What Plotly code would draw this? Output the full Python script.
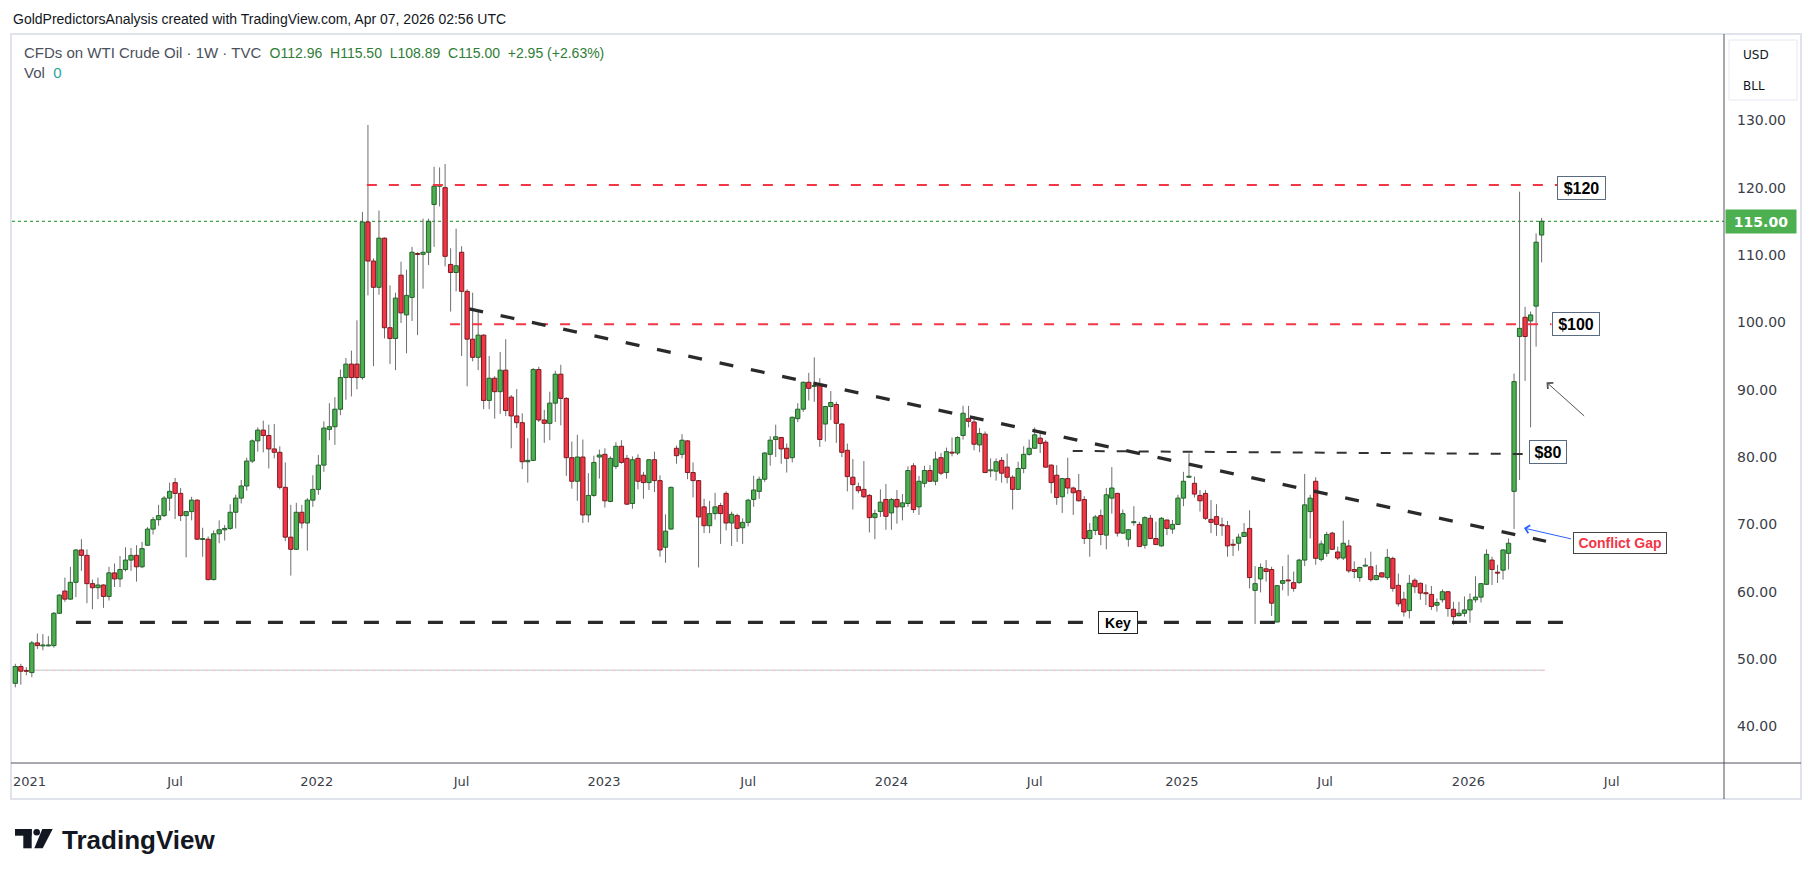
import pandas as pd
import plotly.graph_objects as go

# ---------------- data (weekly candles, TVC WTI) ----------------
first_week = "2020-12-14"

opens = [
    46.4, 48.9, 48.3, 48.0, 52.4, 52.0, 52.0, 52.0, 56.8, 60.1,
    58.9, 61.4, 66.2, 65.4, 61.2, 60.6, 61.0, 59.3, 62.8, 61.9,
    63.3, 64.7, 65.4, 63.7, 66.9, 69.3, 70.7, 71.3, 73.9, 76.2,
    74.6, 71.3, 71.9, 73.6, 67.8, 67.8, 61.8, 68.6, 69.2, 69.4,
    71.8, 73.9, 75.7, 79.4, 82.4, 84.0, 83.2, 81.2, 80.7, 75.5,
    68.1, 66.3, 71.8, 70.2, 73.6, 75.2, 78.8, 84.1, 84.5, 87.1,
    91.8, 93.8, 93.8, 91.8, 114.9, 109.1, 105.2, 112.5, 99.2, 97.6,
    107.0, 101.1, 103.7, 110.2, 110.1, 110.4, 117.5, 120.2, 120.0, 108.6,
    107.4, 110.4, 104.6, 97.5, 94.8, 98.1, 88.4, 91.7, 89.7, 92.9,
    88.9, 86.1, 85.1, 79.3, 79.5, 93.0, 85.5, 85.0, 88.0, 92.3,
    88.7, 79.9, 76.4, 80.0, 71.4, 74.3, 80.0, 80.4, 73.4, 78.6,
    81.6, 79.8, 73.1, 79.8, 77.3, 76.2, 79.6, 76.5, 66.6, 69.3,
    81.3, 80.4, 82.4, 77.7, 76.5, 72.6, 69.8, 71.6, 72.8, 74.6,
    70.2, 71.3, 69.5, 70.3, 73.7, 74.9, 76.7, 80.4, 82.6, 82.9,
    81.3, 79.9, 85.7, 87.1, 91.1, 90.5, 90.6, 84.9, 87.5, 87.8,
    84.9, 81.0, 77.0, 75.6, 75.2, 74.3, 71.0, 71.9, 73.7, 71.7,
    73.7, 72.6, 73.1, 78.7, 72.6, 76.1, 78.0, 76.4, 79.9, 77.7,
    80.7, 80.6, 83.2, 85.7, 85.2, 81.8, 83.4, 78.0, 77.9, 79.5,
    78.5, 77.0, 75.2, 78.3, 80.4, 81.3, 82.8, 82.2, 78.8, 77.3,
    74.1, 76.8, 75.4, 75.0, 73.7, 67.9, 69.1, 71.3, 68.4, 73.9,
    74.6, 68.7, 67.8, 70.3, 70.0, 66.9, 70.9, 67.9, 66.8, 70.65,
    69.3, 70.0, 73.9, 77.0, 76.1, 74.3, 74.6, 70.75, 71.15, 69.9,
    69.8, 67.0, 67.2, 68.2, 69.4, 60.2, 61.9, 63.4, 63.3, 55.5,
    61.25, 61.7, 61.35, 61.35, 64.7, 71.9, 76.4, 64.8, 65.7, 68.7,
    65.9, 65.0, 66.8, 63.3, 62.1, 63.85, 63.7, 61.8, 62.8, 62.1,
    64.95, 60.95, 58.9, 57.2, 61.7, 61.25, 59.8, 59.6, 58.0, 58.8,
    60.0, 57.4, 56.45, 56.8, 57.3, 58.8, 59.2, 61.1, 64.7, 62.85,
    63.2, 65.7, 74.9, 97.9, 100.75, 100.2, 102.4, 112.96,
]

highs = [
    49.3, 49.3, 48.8, 52.7, 53.8, 53.7, 53.4, 57.0, 59.6, 62.1,
    63.7, 66.3, 67.8, 66.3, 61.8, 62.1, 61.1, 63.7, 64.2, 65.3,
    66.6, 66.5, 66.9, 67.4, 69.6, 71.1, 72.9, 74.2, 76.2, 76.9,
    75.4, 72.0, 74.1, 73.7, 69.5, 68.2, 69.1, 70.6, 69.9, 73.0,
    74.4, 76.6, 79.9, 82.6, 84.4, 85.4, 84.8, 84.9, 81.6, 79.2,
    72.9, 73.2, 72.9, 73.9, 77.3, 80.3, 85.3, 88.0, 88.9, 93.0,
    94.7, 95.8, 100.3, 116.4, 129.3, 109.5, 116.6, 112.6, 105.5, 104.4,
    109.0, 107.8, 111.2, 110.4, 115.4, 115.4, 123.1, 123.0, 123.5, 111.0,
    113.9, 111.3, 104.9, 104.4, 101.6, 98.2, 95.0, 92.0, 95.6, 97.5,
    89.2, 90.1, 86.5, 82.8, 93.2, 93.4, 87.0, 89.7, 92.8, 93.7,
    88.9, 82.3, 83.3, 82.6, 77.6, 80.2, 81.1, 81.3, 80.1, 82.2,
    82.5, 80.3, 80.1, 80.4, 77.8, 79.7, 80.8, 77.3, 71.5, 75.6,
    81.7, 83.4, 82.5, 79.2, 76.6, 73.8, 73.5, 74.7, 73.2, 74.9,
    71.9, 71.6, 70.9, 73.8, 77.2, 77.1, 80.7, 83.1, 84.8, 83.0,
    82.0, 86.0, 88.0, 91.2, 92.5, 94.8, 91.7, 87.6, 89.8, 88.2,
    85.0, 82.0, 79.7, 76.2, 79.4, 74.5, 72.2, 75.2, 76.0, 73.9,
    75.1, 74.5, 78.6, 79.1, 77.2, 78.7, 78.8, 80.8, 80.6, 81.4,
    82.9, 83.1, 87.6, 87.6, 86.1, 84.3, 83.8, 79.8, 79.8, 80.0,
    80.5, 77.3, 79.3, 81.6, 82.6, 84.4, 83.5, 82.5, 78.9, 78.8,
    76.9, 79.9, 75.6, 77.5, 74.2, 70.2, 71.4, 72.2, 75.4, 78.5,
    74.7, 72.2, 69.3, 72.7, 70.4, 71.2, 71.4, 70.4, 71.1, 70.7,
    70.65, 74.4, 77.8, 80.55, 77.1, 75.1, 75.1, 73.6, 73.0, 71.0,
    70.5, 67.8, 68.6, 70.2, 72.1, 63.8, 64.2, 64.7, 63.7, 61.0,
    63.8, 65.5, 63.0, 64.9, 77.5, 74.4, 77.0, 67.6, 68.9, 68.9,
    66.7, 70.55, 67.7, 64.5, 63.7, 65.0, 65.95, 64.0, 62.9, 66.35,
    65.2, 62.7, 60.0, 62.5, 62.0, 61.35, 61.1, 60.85, 59.0, 60.35,
    60.1, 58.5, 58.5, 59.3, 59.75, 62.3, 61.3, 66.3, 65.2, 64.0,
    66.3, 67.9, 92.4, 119.4, 102.3, 101.6, 113.2, 115.50,
]

lows = [
    45.8, 46.2, 47.6, 47.3, 51.5, 51.3, 51.9, 51.7, 56.7, 58.5,
    58.8, 59.2, 63.1, 58.3, 57.4, 58.9, 57.6, 58.7, 60.7, 60.7,
    63.0, 63.1, 61.5, 63.5, 66.8, 68.5, 69.8, 71.1, 72.0, 70.8,
    70.5, 65.1, 70.6, 67.7, 65.2, 61.7, 61.7, 67.2, 67.6, 69.2,
    69.4, 73.1, 75.0, 79.1, 80.8, 80.7, 78.3, 79.8, 75.2, 67.5,
    62.4, 66.2, 69.4, 66.1, 72.6, 74.4, 77.8, 82.5, 81.8, 86.2,
    88.5, 89.0, 90.05, 91.5, 104.0, 93.5, 104.1, 97.6, 93.8, 92.9,
    99.9, 95.4, 100.2, 98.1, 105.0, 108.5, 111.2, 117.2, 108.3, 101.6,
    104.6, 95.0, 90.5, 94.2, 92.9, 87.1, 87.1, 85.7, 86.4, 86.1,
    81.3, 84.3, 78.2, 76.2, 79.4, 85.2, 82.1, 82.5, 85.2, 84.7,
    77.2, 75.3, 73.5, 70.2, 70.3, 74.1, 76.8, 72.5, 73.3, 78.2,
    79.0, 72.9, 72.3, 75.2, 73.8, 75.1, 74.8, 65.2, 64.3, 69.2,
    79.0, 79.8, 76.7, 74.0, 63.6, 68.7, 68.7, 70.7, 67.1, 69.1,
    66.8, 67.4, 67.1, 69.7, 72.6, 73.8, 76.3, 78.7, 80.0, 79.0,
    77.7, 79.2, 85.2, 86.7, 88.4, 88.2, 81.5, 82.3, 85.5, 82.1,
    80.0, 74.9, 72.2, 74.6, 73.9, 68.8, 67.8, 71.1, 69.2, 69.2,
    70.1, 70.6, 72.6, 71.7, 71.4, 75.5, 76.3, 75.8, 77.3, 76.8,
    80.1, 80.3, 82.6, 84.4, 81.0, 80.7, 77.6, 77.0, 76.5, 76.2,
    76.1, 72.2, 75.1, 77.6, 80.2, 81.2, 80.6, 78.4, 74.6, 72.9,
    71.7, 74.5, 71.4, 73.4, 67.1, 65.2, 68.4, 66.9, 66.3, 71.6,
    68.2, 68.6, 66.7, 69.8, 66.7, 66.4, 67.8, 67.0, 66.7, 68.4,
    68.6, 69.9, 72.7, 76.9, 74.0, 71.9, 70.65, 68.7, 68.3, 68.3,
    65.2, 65.3, 66.1, 68.1, 60.5, 55.2, 59.9, 61.5, 56.4, 55.5,
    60.2, 59.4, 60.0, 61.2, 63.8, 67.9, 64.0, 64.5, 65.2, 66.2,
    64.7, 64.7, 62.8, 62.0, 61.5, 63.7, 61.5, 61.7, 62.1, 61.75,
    60.0, 57.8, 56.3, 56.05, 59.8, 58.8, 58.0, 57.3, 57.05, 58.4,
    56.3, 55.1, 56.3, 56.3, 55.4, 58.4, 58.4, 61.0, 61.0, 61.3,
    61.8, 63.3, 69.3, 76.6, 91.3, 84.4, 96.4, 108.89,
]

closes = [
    48.9, 48.2, 48.2, 52.4, 52.0, 52.05, 52.05, 56.8, 59.5, 58.9,
    61.4, 66.2, 65.4, 61.2, 60.6, 61.0, 59.3, 62.8, 61.9, 63.3,
    64.7, 65.4, 63.7, 66.4, 69.3, 70.7, 71.3, 73.9, 74.9, 74.6,
    71.3, 71.9, 73.6, 67.8, 67.85, 61.8, 68.6, 69.2, 69.4, 71.8,
    73.9, 75.7, 79.4, 82.4, 84.0, 83.2, 81.2, 80.7, 75.5, 68.1,
    66.3, 71.8, 70.2, 73.6, 75.2, 78.8, 84.3, 84.5, 87.1, 91.8,
    93.8, 91.8, 91.8, 114.9, 109.1, 105.2, 112.5, 99.2, 97.6, 103.6,
    101.4, 104.0, 110.4, 110.1, 110.4, 115.0, 120.2, 120.4, 109.8, 107.4,
    108.4, 104.6, 97.5, 94.8, 98.1, 88.4, 91.7, 89.7, 92.9, 86.9,
    86.1, 85.1, 79.3, 79.5, 93.0, 85.5, 85.0, 88.0, 92.3, 88.7,
    79.9, 76.4, 80.0, 71.4, 74.3, 79.2, 80.3, 73.5, 79.8, 81.6,
    79.2, 73.0, 79.6, 76.4, 76.2, 79.6, 76.5, 66.2, 69.0, 75.5,
    80.2, 82.5, 77.7, 76.5, 71.1, 69.8, 71.6, 72.6, 71.6, 70.2,
    71.5, 69.4, 70.3, 73.6, 75.1, 76.7, 80.6, 82.5, 83.0, 81.2,
    79.8, 85.9, 87.1, 91.1, 90.2, 90.6, 82.6, 87.5, 88.1, 85.0,
    80.7, 77.1, 75.9, 75.0, 74.1, 71.0, 71.6, 73.3, 71.2, 73.7,
    72.6, 73.2, 78.0, 72.2, 76.4, 78.0, 76.4, 79.7, 77.6, 80.8,
    80.6, 82.9, 86.5, 85.3, 81.9, 83.5, 77.7, 78.05, 79.3, 77.6,
    77.0, 75.2, 78.3, 80.4, 81.3, 83.3, 82.0, 78.5, 76.2, 74.0,
    76.8, 75.4, 74.7, 73.5, 67.9, 69.1, 71.1, 68.5, 74.4, 75.4,
    68.7, 71.6, 69.2, 70.35, 66.7, 71.0, 67.9, 67.0, 70.9, 69.4,
    70.0, 73.9, 76.4, 77.15, 74.5, 73.5, 70.9, 70.3, 70.0, 69.85,
    66.8, 66.95, 68.1, 68.8, 62.1, 61.2, 63.6, 63.0, 58.3, 60.9,
    61.65, 61.65, 60.5, 64.7, 72.9, 73.9, 64.96, 67.1, 68.5, 66.3,
    65.0, 67.2, 63.1, 63.0, 63.6, 63.9, 61.8, 62.4, 62.2, 65.1,
    60.5, 58.2, 57.0, 61.25, 60.75, 59.8, 59.75, 57.8, 58.4, 60.0,
    57.5, 56.3, 56.8, 57.3, 58.8, 59.2, 61.2, 65.55, 63.3, 62.8,
    66.2, 67.2, 91.2, 99.1, 97.9, 101.1, 111.9, 115.00,
]

assert len(opens) == len(highs) == len(lows) == len(closes)

price_ticks = [40, 50, 60, 70, 80, 90, 100, 110, 120, 130]
time_tick_dates = ["2021-01-01", "2021-07-05", "2022-01-01", "2022-07-04", "2023-01-01",
                   "2023-07-03", "2024-01-01", "2024-07-01", "2025-01-04", "2025-07-05",
                   "2026-01-03", "2026-07-04"]
time_tick_text = ["2021", "Jul", "2022", "Jul", "2023", "Jul", "2024", "Jul",
                  "2025", "Jul", "2026", "Jul"]

level_120 = 120.4
level_100 = 99.7
level_80_start, level_80_end = 80.9, 80.45
key_level = 55.45
trend_start, trend_end = 102.0, 67.5
old_close_level = 48.35
last_price = 115.00

# ---------------- helpers ----------------
n_bars = len(closes)
dates = pd.date_range(first_week, periods=n_bars, freq="7D")
START = pd.Timestamp(first_week)


def wk(n):
    """date at (fractional) bar index n (1-based)"""
    return START + pd.Timedelta(days=7.0 * (n - 1))


W, H = 1814, 877
L, R, T, B = 12, 1724, 34, 763
PW, PH = R - L, B - T


def px(x):
    return (x - L) / PW


def py(y):
    return (B - y) / PH


UP_FILL, UP_LINE = "#4caf50", "#24612b"
DN_FILL, DN_LINE = "#f23645", "#7c1a22"
WICK = "#6e6e6e"

# ---------------- traces ----------------
wx, wy = [], []
for d, lo, hi in zip(dates, lows, highs):
    wx += [d, d, None]
    wy += [lo, hi, None]

wicks = go.Scatter(x=wx, y=wy, mode="lines", line=dict(color=WICK, width=1),
                   hoverinfo="skip", showlegend=False, xaxis="x", yaxis="y")

base, height, fill, edge = [], [], [], []
for o, c in zip(opens, closes):
    lo_b, hi_b = min(o, c), max(o, c)
    h = max(hi_b - lo_b, 0.14)
    base.append(lo_b if hi_b - lo_b >= 0.14 else (o + c) / 2 - 0.07)
    height.append(h)
    up = c >= o
    fill.append(UP_FILL if up else DN_FILL)
    edge.append(UP_LINE if up else DN_LINE)

bodies = go.Bar(x=dates, y=height, base=base, width=0.78 * 7 * 86400000,
                marker=dict(color=fill, line=dict(color=edge, width=1)),
                hoverinfo="skip", showlegend=False, xaxis="x2", yaxis="y2")

fig = go.Figure([wicks, bodies])

x_range = [wk(0.40), wk(311.1)]
y_range = [34.57, 142.81]

fig.update_layout(
    width=W, height=H,
    margin=dict(l=L, r=W - R, t=T, b=H - B, pad=0),
    paper_bgcolor="white", plot_bgcolor="white",
    showlegend=False, bargap=0,
    xaxis=dict(type="date", range=x_range, showgrid=False, zeroline=False, showline=False,
               tickmode="array", tickvals=time_tick_dates, ticktext=time_tick_text,
               tickfont=dict(family="DejaVu Sans", size=13, color="#3a3e48"),
               ticks="", ticklabelstandoff=9, fixedrange=True),
    yaxis=dict(side="right", range=y_range, showgrid=False, zeroline=False, showline=False,
               tickmode="array", tickvals=price_ticks,
               ticktext=[f"{v:.2f}" for v in price_ticks],
               tickfont=dict(family="DejaVu Sans", size=14, color="#3a3e48"),
               ticks="", ticklabelstandoff=12, fixedrange=True),
    xaxis2=dict(type="date", range=x_range, overlaying="x", visible=False, fixedrange=True),
    yaxis2=dict(range=y_range, overlaying="y", visible=False, fixedrange=True),
)

shapes = []
# pane frame and separators
shapes.append(dict(type="rect", xref="paper", yref="paper", x0=px(11), x1=px(1801),
                   y0=py(799), y1=py(34), line=dict(color="#e0e3eb", width=2), layer="below"))
shapes.append(dict(type="line", xref="paper", yref="paper", x0=1, x1=1, y0=py(799), y1=py(34),
                   line=dict(color="#50535e", width=1)))
shapes.append(dict(type="line", xref="paper", yref="paper", x0=px(11), x1=px(1801), y0=0, y1=0,
                   line=dict(color="#50535e", width=1)))
# USD / BLL box
shapes.append(dict(type="rect", xref="paper", yref="paper", x0=px(1729), x1=px(1797),
                   y0=py(100), y1=py(40), line=dict(color="#e6e8ee", width=1), layer="below"))
# last price dotted line
shapes.append(dict(type="line", xref="paper", yref="y", x0=0, x1=1, y0=last_price, y1=last_price,
                   line=dict(color="#43a047", width=1.2, dash="dot"), layer="below"))
# old close dashed line (pink / teal)
shapes.append(dict(type="line", xref="x", yref="y", x0=wk(4.2), x1=wk(278.6),
                   y0=old_close_level, y1=old_close_level,
                   line=dict(color="#9fd8d3", width=1, dash="4px,4px"), layer="below"))
shapes.append(dict(type="line", xref="x", yref="y", x0=wk(4.9), x1=wk(278.6),
                   y0=old_close_level, y1=old_close_level,
                   line=dict(color="#f4a7ae", width=1, dash="4px,4px"), layer="below"))
# red resistance lines
shapes.append(dict(type="line", xref="x", yref="y", x0=wk(64.8), x1=wk(280.8),
                   y0=level_120, y1=level_120, line=dict(color="#f23645", width=2, dash="10px,12px")))
shapes.append(dict(type="line", xref="x", yref="y", x0=wk(79.9), x1=wk(279.8),
                   y0=level_100, y1=level_100, line=dict(color="#f23645", width=2, dash="10px,12px")))
# $80 dashed line
shapes.append(dict(type="line", xref="x", yref="y", x0=wk(192.9), x1=wk(274.6),
                   y0=level_80_start, y1=level_80_end, line=dict(color="#333333", width=2, dash="10px,12px")))
# descending trend line
shapes.append(dict(type="line", xref="x", yref="y", x0=wk(83.4), x1=wk(278.8),
                   y0=trend_start, y1=trend_end, line=dict(color="#2a2a2a", width=3.2, dash="14px,18px")))
# key support line
shapes.append(dict(type="line", xref="x", yref="y", x0=wk(12.0), x1=wk(283.9),
                   y0=key_level, y1=key_level, line=dict(color="#2a2a2a", width=3.2, dash="15px,17px")))

# TradingView logo glyph
shapes.append(dict(type="rect", xref="paper", yref="paper", x0=px(15), x1=px(31.7),
                   y0=py(835.7), y1=py(829), fillcolor="#131722", line=dict(width=0)))
shapes.append(dict(type="rect", xref="paper", yref="paper", x0=px(23.3), x1=px(31.7),
                   y0=py(848.3), y1=py(829), fillcolor="#131722", line=dict(width=0)))
shapes.append(dict(type="circle", xref="paper", yref="paper", x0=px(33.4), x1=px(40.0),
                   y0=py(835.6), y1=py(829.0), fillcolor="#131722", line=dict(width=0)))
pts = [(42.3, 829), (52.7, 829), (42.7, 848.3), (34.3, 848.3)]
path = "M " + " L ".join(f"{px(a):.6f},{py(b):.6f}" for a, b in pts) + " Z"
shapes.append(dict(type="path", xref="paper", yref="paper", path=path,
                   fillcolor="#131722", line=dict(width=0)))

fig.update_layout(shapes=shapes)

NB = "\u00a0"
ann = []
ann.append(dict(xref="paper", yref="paper", x=px(11), y=py(18.5), xanchor="left", yanchor="middle",
                text="GoldPredictorsAnalysis created with TradingView.com, Apr 07, 2026 02:56 UTC",
                showarrow=False, font=dict(family="Liberation Sans", size=14, color="#131722")))
vals = (NB + NB).join(["O112.96", "H115.50", "L108.89", "C115.00", "+2.95" + NB + "(+2.63%)"])
ann.append(dict(xref="paper", yref="paper", x=px(22), y=py(52), xanchor="left", yanchor="middle",
                text=f"CFDs on WTI Crude Oil · 1W · TVC{NB}{NB}"
                     f"<span style='color:#2f7d36;font-size:14px'>{vals}</span>",
                showarrow=False, font=dict(family="Liberation Sans", size=15, color="#4b505c")))
ann.append(dict(xref="paper", yref="paper", x=px(22), y=py(73), xanchor="left", yanchor="middle",
                text=f"Vol{NB}{NB}<span style='color:#26a69a'>0</span>",
                showarrow=False, font=dict(family="Liberation Sans", size=15, color="#4b505c")))
# currency / unit box text
ann.append(dict(xref="paper", yref="paper", x=px(1741), y=py(54.5), xanchor="left", yanchor="middle",
                text="USD", showarrow=False, font=dict(family="DejaVu Sans", size=12, color="#131722")))
ann.append(dict(xref="paper", yref="paper", x=px(1741), y=py(85.5), xanchor="left", yanchor="middle",
                text="BLL", showarrow=False, font=dict(family="DejaVu Sans", size=12, color="#131722")))
# last price label
ann.append(dict(xref="paper", yref="y", x=px(1725), y=last_price, xanchor="left", yanchor="middle",
                text="<b>115.00</b>", showarrow=False, bgcolor="#4caf50", width=70, height=23,
                borderpad=0, font=dict(family="DejaVu Sans", size=14, color="white")))

# level labels


def box_label(n_left, y, text, w, h, color="#000000", border="#5b6b7f", size=16):
    return dict(xref="x", yref="y", x=wk(n_left), y=y, xanchor="left", yanchor="middle",
                text=f"<b>{text}</b>", showarrow=False, bgcolor="white", bordercolor=border,
                borderwidth=1, borderpad=0, width=w, height=h,
                font=dict(family="Liberation Sans", size=size, color=color))


ann.append(box_label(280.8, 120.0, "$120", 47, 22))
ann.append(box_label(279.8, 99.7, "$100", 46, 22))
ann.append(box_label(275.8, 80.7, "$80", 36, 22))
ann.append(box_label(197.4, key_level, "Key", 38, 21, border="#222222", size=14))
ann.append(box_label(283.7, 67.3, "Conflict Gap", 92, 20, color="#f23645", border="#444444", size=14))

# arrows
ann.append(dict(xref="x", yref="y", axref="x", ayref="y", x=wk(278.9), y=91.1,
                ax=wk(286.0), ay=85.9, text="", showarrow=True, arrowhead=4, arrowsize=1.6,
                arrowwidth=1, arrowcolor="#555555"))
ann.append(dict(xref="x", yref="y", axref="x", ayref="y", x=wk(274.8), y=69.45,
                ax=wk(283.6), ay=67.8, text="", showarrow=True, arrowhead=4, arrowsize=1.6,
                arrowwidth=1, arrowcolor="#2962ff"))

# TradingView wordmark
ann.append(dict(xref="paper", yref="paper", x=px(60), y=py(840), xanchor="left", yanchor="middle",
                text="<b>TradingView</b>", showarrow=False,
                font=dict(family="Liberation Sans", size=26, color="#131722")))

fig.update_layout(annotations=ann)

fig.write_html("out.html", config={"displayModeBar": False, "staticPlot": True})
